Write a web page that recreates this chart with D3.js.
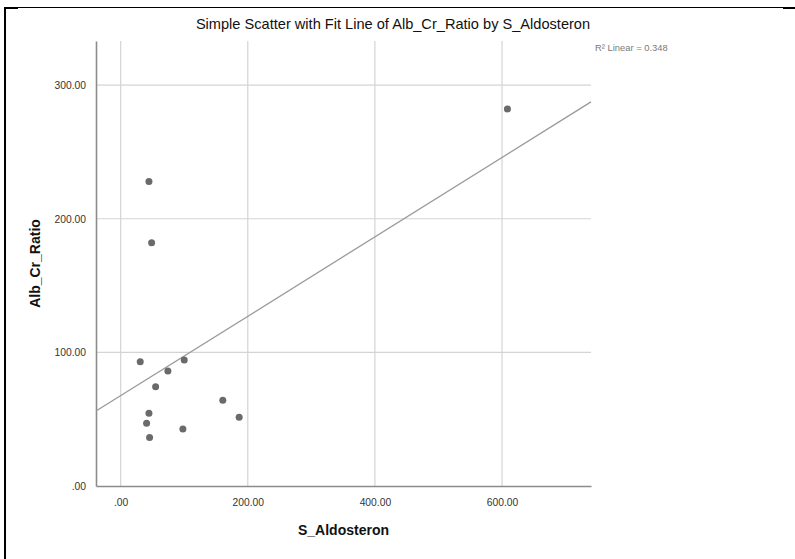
<!DOCTYPE html>
<html>
<head>
<meta charset="utf-8">
<script src="https://cdn.jsdelivr.net/npm/d3@7"></script>
<style>
  html, body { margin: 0; padding: 0; background: #fff; }
  svg { display: block; }
  text { font-family: "Liberation Sans", Arial, sans-serif; }
</style>
</head>
<body>
<svg id="chart" width="795" height="559"></svg>
<script>
// Serum aldosterone vs. albumin/creatinine ratio
const sAldosteron = [44.5, 48.7, 30.8, 100.0, 74.3, 55.0, 160.7, 186.4, 44.5, 40.8, 97.9, 45.5, 608.5];
const albCrRatio  = [227.8, 182.1, 93.0, 94.3, 86.1, 74.3, 64.1, 51.4, 54.4, 46.9, 42.7, 36.2, 282.2];
const xTickValues = [0, 200, 400, 600];
const yTickValues = [0, 100, 200, 300];
const titleText = "Simple Scatter with Fit Line of Alb_Cr_Ratio by S_Aldosteron";
const xTitle = "S_Aldosteron";
const yTitle = "Alb_Cr_Ratio";

const svg = d3.select("#chart");
const plot = { left: 96, right: 591, top: 41, bottom: 486 };

const x = d3.scaleLinear().domain([-38.8, 740]).range([plot.left, plot.right]);
const y = d3.scaleLinear().domain([0, 333]).range([plot.bottom, plot.top]);

// SPSS-style number format: two decimals, no leading zero
const fmt = v => d3.format(".2f")(v).replace(/^0(?=\.)/, "");

// Outer frame
svg.append("line").attr("x1", 4).attr("x2", 795).attr("y1", 7.5).attr("y2", 7.5)
  .attr("stroke", "#000").attr("stroke-width", 1);
svg.append("rect").attr("x", 4).attr("y", 7).attr("width", 14).attr("height", 2).attr("fill", "#000");
svg.append("rect").attr("x", 783).attr("y", 7).attr("width", 12).attr("height", 2).attr("fill", "#000");
svg.append("rect").attr("x", 4).attr("y", 7).attr("width", 2).attr("height", 552).attr("fill", "#000");

// Gridlines
const grid = svg.append("g");
grid.selectAll("line.vx").data(xTickValues).join("line")
  .attr("x1", d => x(d)).attr("x2", d => x(d))
  .attr("y1", plot.top).attr("y2", plot.bottom)
  .attr("stroke", "#d4d4d4").attr("stroke-width", 1.2);
grid.selectAll("line.hy").data(yTickValues.filter(d => d > 0)).join("line")
  .attr("x1", plot.left).attr("x2", plot.right)
  .attr("y1", d => y(d)).attr("y2", d => y(d))
  .attr("stroke", "#d4d4d4").attr("stroke-width", 1.2);

// Axes
const xAxis = d3.axisBottom(x).tickValues(xTickValues).tickFormat(fmt).tickSize(0).tickPadding(13);
const yAxis = d3.axisLeft(y).tickValues(yTickValues).tickFormat(fmt).tickSize(0).tickPadding(10);

const gx = svg.append("g").attr("transform", `translate(0,${plot.bottom})`).call(xAxis);
const gy = svg.append("g").attr("transform", `translate(${plot.left},0)`).call(yAxis);
[gx, gy].forEach(g => {
  g.select(".domain").attr("stroke", "#8c8c8c").attr("stroke-width", 1.6);
  g.selectAll("text").attr("font-size", 10.3).attr("fill", "#333")
    .attr("font-family", "'Liberation Sans', Arial, sans-serif");
});

// Least-squares fit line
const n = sAldosteron.length;
const mx = d3.mean(sAldosteron), my = d3.mean(albCrRatio);
let sxy = 0, sxx = 0, syy = 0;
for (let i = 0; i < n; i++) {
  const dx = sAldosteron[i] - mx, dy = albCrRatio[i] - my;
  sxy += dx * dy; sxx += dx * dx; syy += dy * dy;
}
const slope = sxy / sxx;
const intercept = my - slope * mx;
const r2 = (sxy * sxy) / (sxx * syy);
const [x0, x1] = x.domain();
svg.append("line")
  .attr("x1", x(x0)).attr("y1", y(intercept + slope * x0))
  .attr("x2", x(x1)).attr("y2", y(intercept + slope * x1))
  .attr("stroke", "#9a9a9a").attr("stroke-width", 1.3);

// Points
svg.append("g").selectAll("circle").data(sAldosteron).join("circle")
  .attr("cx", (d, i) => x(d))
  .attr("cy", (d, i) => y(albCrRatio[i]))
  .attr("r", 3.5)
  .attr("fill", "#6a6a6a");

// R-squared annotation
svg.append("text").attr("x", 595).attr("y", 51)
  .attr("font-size", 9.4).attr("fill", "#7a7a7a")
  .text(`R² Linear = ${r2.toFixed(3)}`);

// Titles
svg.append("text").attr("x", 393).attr("y", 29).attr("text-anchor", "middle")
  .attr("font-size", 14.6).attr("fill", "#111").text(titleText);
svg.append("text").attr("x", (plot.left + plot.right) / 2).attr("y", 535)
  .attr("text-anchor", "middle").attr("font-size", 14).attr("font-weight", "bold")
  .attr("fill", "#111").text(xTitle);
svg.append("text")
  .attr("transform", `translate(40,${(plot.top + plot.bottom) / 2}) rotate(-90)`)
  .attr("text-anchor", "middle").attr("font-size", 14).attr("font-weight", "bold")
  .attr("fill", "#111").text(yTitle);
</script>
</body>
</html>
